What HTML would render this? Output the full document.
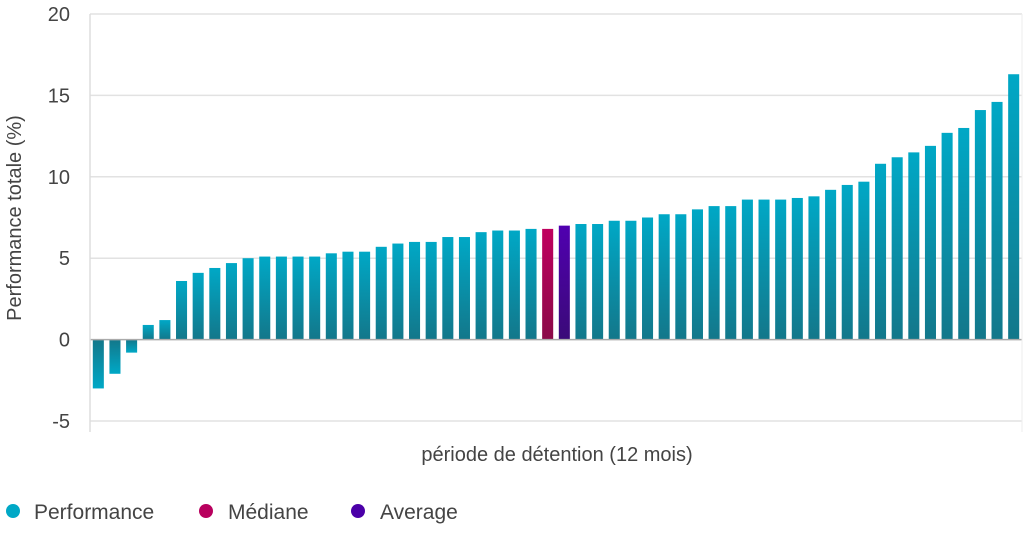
<!DOCTYPE html>
<html><head><meta charset="utf-8"><style>
body{margin:0;background:#fff;width:1024px;height:531px;overflow:hidden}
svg text{font-family:"Liberation Sans Narrow","Liberation Sans",sans-serif;fill:#444}
</style></head><body>
<svg id="c" width="1024" height="531">
<defs>
<linearGradient id="gP" x1="0" y1="0" x2="0" y2="1"><stop offset="0" stop-color="#00a8c6"/><stop offset="1" stop-color="#13778a"/></linearGradient>
<linearGradient id="gN" x1="0" y1="0" x2="0" y2="1"><stop offset="0" stop-color="#13778a"/><stop offset="1" stop-color="#00a8c6"/></linearGradient>
<linearGradient id="gM" x1="0" y1="0" x2="0" y2="1"><stop offset="0" stop-color="#c0005e"/><stop offset="1" stop-color="#8a0a48"/></linearGradient>
<linearGradient id="gA" x1="0" y1="0" x2="0" y2="1"><stop offset="0" stop-color="#5000b0"/><stop offset="1" stop-color="#3a0a78"/></linearGradient>
</defs>
<g id="grid"></g><g id="bars"></g><g id="axes"></g>
<text x="557" y="461" font-size="20" text-anchor="middle">période de détention (12 mois)</text>
<text transform="translate(21,218) rotate(-90)" font-size="20" text-anchor="middle">Performance totale (%)</text>
<g>
<g><circle cx="13" cy="511" r="7" fill="#00a8c6"/><text x="34" y="519" font-size="21">Performance</text></g>
<g><circle cx="206" cy="511" r="7" fill="#b8005e"/><text x="228" y="519" font-size="21">Médiane</text></g>
<g><circle cx="358" cy="511" r="7" fill="#4b00a8"/><text x="380" y="519" font-size="21">Average</text></g>
</g>
</svg>
<script>
const values=[-3.0,-2.1,-0.8,0.9,1.2,3.6,4.1,4.4,4.7,5.0,5.1,5.1,5.1,5.1,5.3,5.4,5.4,5.7,5.9,6.0,6.0,6.3,6.3,6.6,6.7,6.7,6.8,6.8,7.0,7.1,7.1,7.3,7.3,7.5,7.7,7.7,8.0,8.2,8.2,8.6,8.6,8.6,8.7,8.8,9.2,9.5,9.7,10.8,11.2,11.5,11.9,12.7,13.0,14.1,14.6,16.3];
const medianIndex=27;
const averageIndex=28;
const yTicks=[-5,0,5,10,15,20];
const NS='http://www.w3.org/2000/svg';
const x0=90,x1=1022,yTop=14,yBot=421,vMin=-5,vMax=20;
const y=v=>yBot-(v-vMin)/(vMax-vMin)*(yBot-yTop);
const band=(x1-x0)/values.length;
const bx=i=>x0+i*band;
function mk(t,a,p){const e=document.createElementNS(NS,t);for(const k in a)e.setAttribute(k,a[k]);p.appendChild(e);return e;}
const grid=document.getElementById('grid'),bars=document.getElementById('bars'),axes=document.getElementById('axes');
yTicks.forEach(v=>{
  if(v!==0){const l=mk('line',{x1:x0,x2:x1,y1:y(v),y2:y(v),stroke:'#e2e2e2','stroke-width':1.5},grid);
  
  }
  const t=mk('text',{x:70,y:y(v)+7,'font-size':20,'text-anchor':'end'},axes);
  t.textContent=v;
  
  
});
values.forEach((v,i)=>{
  const fill=i===medianIndex?'url(#gM)':i===averageIndex?'url(#gA)':(v<0?'url(#gN)':'url(#gP)');
  const top=Math.min(y(v),y(0)),h=Math.abs(y(v)-y(0));
  const r=mk('rect',{x:bx(i)+2.8,y:top,width:band-5.6,height:h,fill:fill},bars);
  
  
});
const z=mk('line',{x1:x0,x2:x1,y1:y(0),y2:y(0),stroke:'#aaa','stroke-width':1.5},axes);


const ya=mk('line',{x1:x0,x2:x0,y1:yTop,y2:432,stroke:'#ddd','stroke-width':1.5},axes);


const xr=mk('line',{x1:x1,x2:x1,y1:yTop,y2:432,stroke:'#eee','stroke-width':1},axes);


</script>
</body></html>
